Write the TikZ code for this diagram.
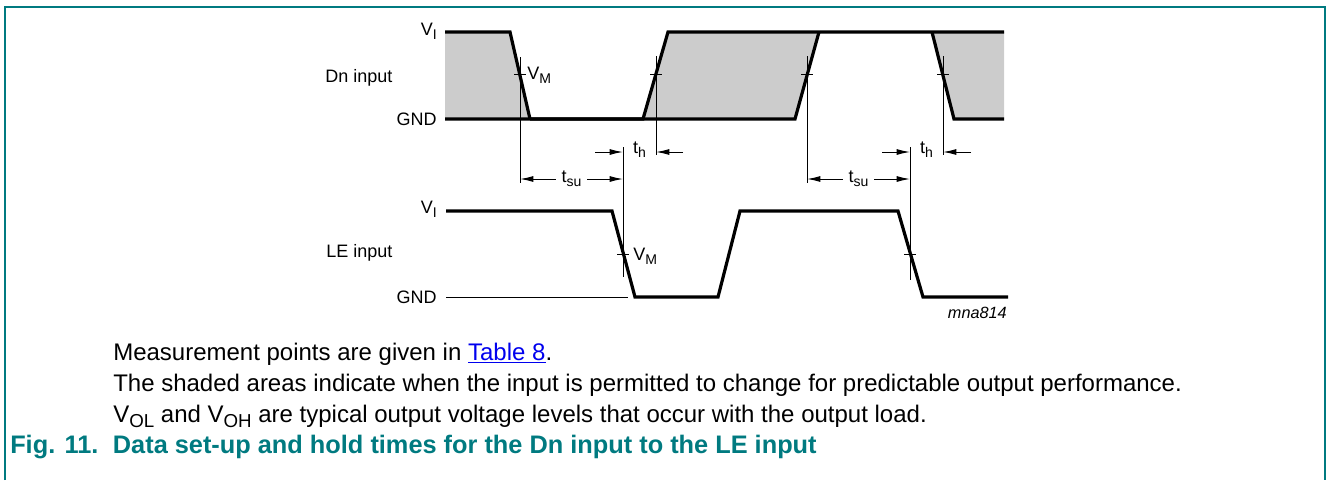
\documentclass[tikz,border=0pt]{standalone}
\usepackage{fontspec}
\setmainfont{Liberation Sans}
\usetikzlibrary{positioning, arrows.meta, calc}

\definecolor{figteal}{RGB}{0,122,128}
\definecolor{areagray}{RGB}{204,204,204}
\definecolor{linkblue}{RGB}{0,0,238}

\newcommand{\lowidx}[1]{\raisebox{-0.45ex}{\scalebox{0.78}{#1}}}

\tikzset{
    wave/.style={line width=2.4pt},
    thinline/.style={line width=0.75pt},
    dim/.style={line width=0.75pt, -{Latex[length=10pt,width=4.5pt]}},
    lbl/.style={font=\fontsize{13.5pt}{16pt}\selectfont, inner sep=0pt},
    note/.style={font=\fontsize{18pt}{22pt}\selectfont, inner sep=0pt, anchor=base west},
}

\begin{document}
\begin{tikzpicture}[x=0.75pt, y=-0.75pt]
\useasboundingbox (0,0) rectangle (1328,480);
\draw[figteal, line width=1.5pt] (5,480) -- (5,7) -- (1325,7) -- (1325,480);

% Dn input waveform
\begin{scope}
    \fill[areagray] (445,32) -- (510,32) -- (530,119) -- (445,119) -- cycle;
    \fill[areagray] (643,119) -- (668,32) -- (819,32) -- (795,119) -- cycle;
    \fill[areagray] (932,32) -- (1004,32) -- (1004,119) -- (954,119) -- cycle;
    \draw[wave] (445,32) -- (510,32) -- (530,119);
    \draw[wave] (445,119) -- (643,119) -- (668,32) -- (1004,32);
    \draw[wave] (530,119) -- (795,119) -- (819,32);
    \draw[wave] (932,32) -- (954,119) -- (1004,119);
    \coordinate (c1) at (520,74);
    \coordinate (c2) at (656,74);
    \coordinate (c3) at (807,74);
    \coordinate (c4) at (943,74);
    \node[lbl, anchor=base east] (dvi) at (437,35) {V\lowidx{I}};
    \node[lbl, anchor=base west] (dname) at (325,82) {Dn input};
    \node[lbl, anchor=base east] (dgnd) at (437,125) {GND};
    \node[lbl, anchor=base west] (dvm) at (527,79) {V\lowidx{M}};
\end{scope}

% LE input waveform
\begin{scope}
    \draw[thinline] (446,297) -- (628,297);
    \draw[wave] (446,211) -- (612,211) -- (635,297) -- (718,297) -- (740,211)
        -- (898,211) -- (923,297) -- (1008,297);
    \coordinate (e1) at (623,254);
    \coordinate (e2) at (910,254);
    \node[lbl, anchor=base east] (lvi) at (437,213) {V\lowidx{I}};
    \node[lbl, anchor=base west] (lname) at (326,257) {LE input};
    \node[lbl, anchor=base east] (lgnd) at (437,303) {GND};
    \node[lbl, anchor=base west] (lvm) at (633,260) {V\lowidx{M}};
    \node[lbl, anchor=base east, font=\fontsize{12.2pt}{14pt}\selectfont\itshape] (code) at (1007,318) {mna814};
\end{scope}

% V_M marks and extension lines
\foreach \c/\up/\len in {c1/17/126, c2/18/99, c3/18/127, c4/18/99, e1/107/130, e2/107/133} {
    \draw[thinline] (\c) ++(-6,0) -- ++(12,0);
    \draw[thinline] (\c) ++(0,-\up) -- ++(0,\len);
}

% set-up and hold times
\coordinate (su) at (0,179);
\coordinate (ho) at (0,152);
\node[lbl, inner sep=4pt] (tsu1) at ($(c1 |- su)!.5!(e1 |- su)$) {t\lowidx{su}};
\draw[dim] (tsu1.west) -- (c1 |- su);
\draw[dim] (tsu1.east) -- (e1 |- su);
\node[lbl, inner sep=4pt] (tsu2) at ($(c3 |- su)!.5!(e2 |- su)$) {t\lowidx{su}};
\draw[dim] (tsu2.west) -- (c3 |- su);
\draw[dim] (tsu2.east) -- (e2 |- su);
\node[lbl] (th1) at ($(e1 |- ho)!.5!(c2 |- ho)+(0,-2)$) {t\lowidx{h}};
\draw[dim] ($(e1 |- ho)+(-28,0)$) -- (e1 |- ho);
\draw[dim] ($(c2 |- ho)+(27,0)$) -- (c2 |- ho);
\node[lbl] (th2) at ($(e2 |- ho)!.5!(c4 |- ho)+(0,-2)$) {t\lowidx{h}};
\draw[dim] ($(e2 |- ho)+(-28,0)$) -- (e2 |- ho);
\draw[dim] ($(c4 |- ho)+(28,0)$) -- (c4 |- ho);

% notes and caption
\node[note] (n1) at (113,360) {Measurement points are given in \textcolor{linkblue}{\underline{Table 8}}.};
\node[note] (n2) at (113,391) {The shaded areas indicate when the input is permitted to change for predictable output performance.};
\node[note] (n3) at (113,422) {V\lowidx{OL} and V\lowidx{OH} are typical output voltage levels that occur with the output load.};
\node[note, text=figteal, font=\fontsize{19pt}{22pt}\selectfont\bfseries] (fig) at (10,453)
    {\makebox[77pt][l]{Fig. 11.}Data set-up and hold times for the Dn input to the LE input};
\end{tikzpicture}
\end{document}
